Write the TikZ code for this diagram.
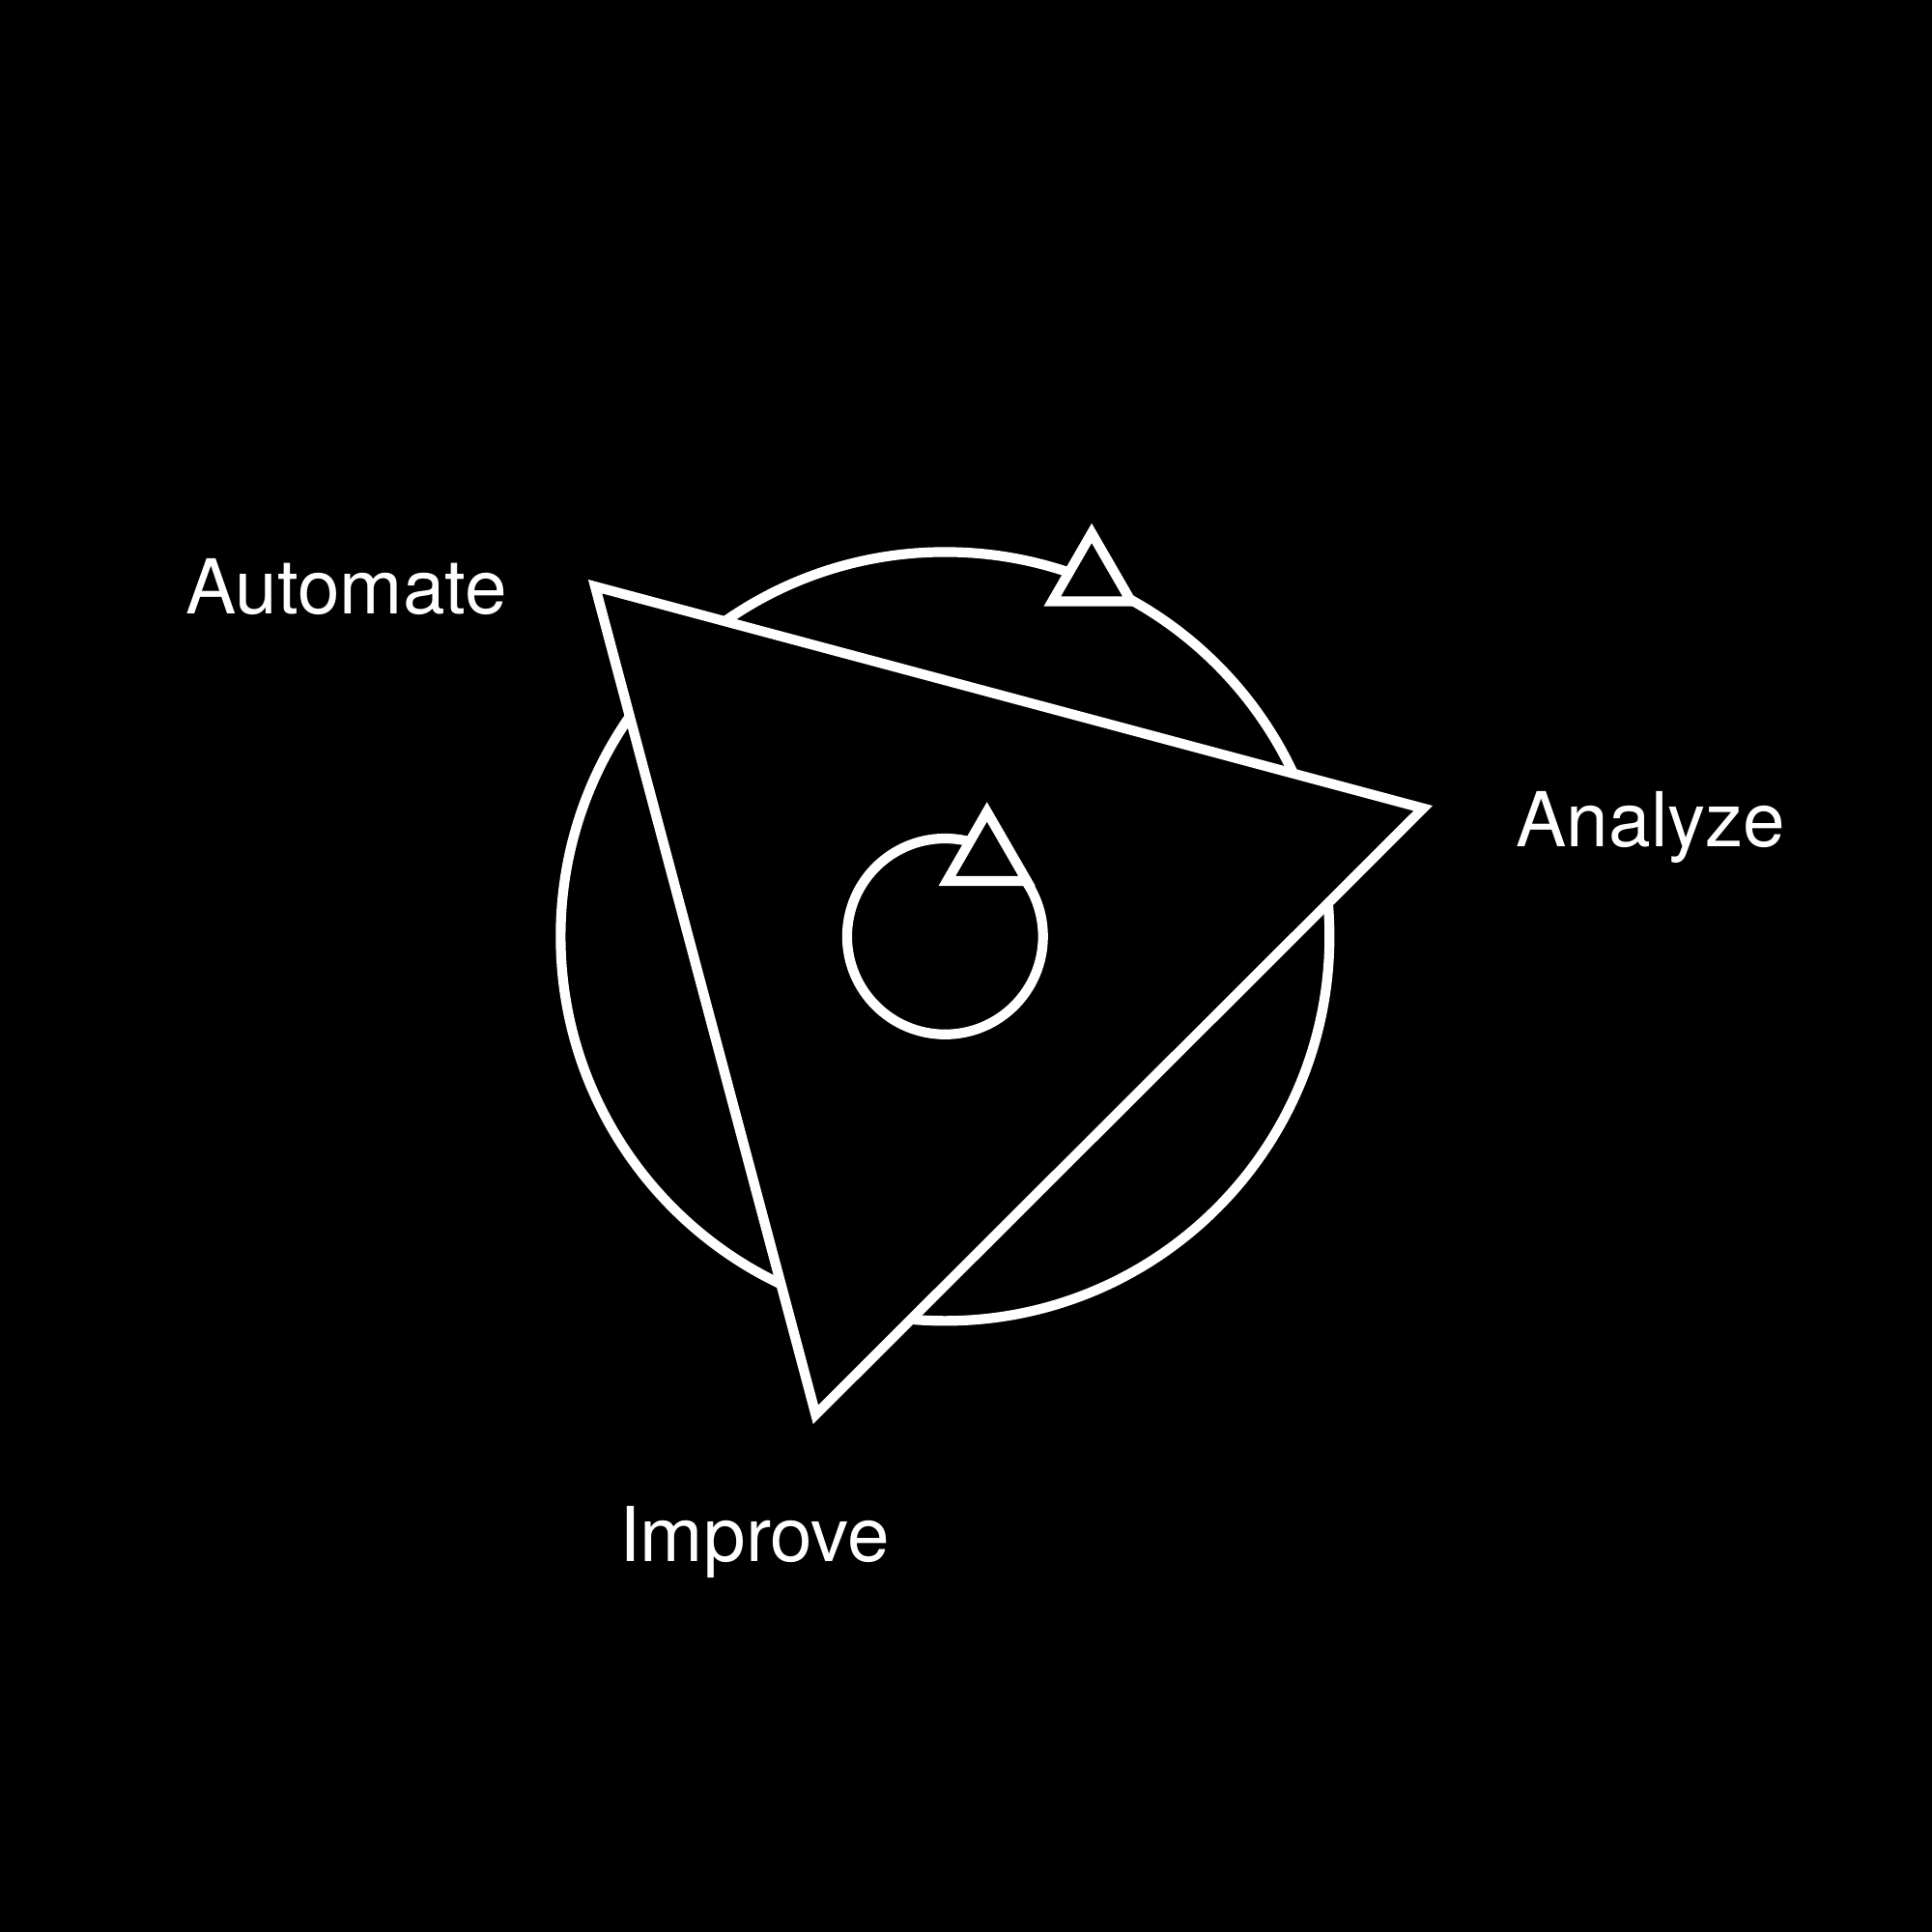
\documentclass[tikz,border=0pt]{standalone}
\usepackage{fontspec}
\setmainfont{TeX Gyre Heros}
\begin{document}
\begin{tikzpicture}[x=0.012755cm,y=-0.012755cm,
  ring/.style={draw=white, line width=0.102cm},
  tri/.style={draw=white, fill=black, line width=0.102cm, line join=miter},
  lbl/.style={text=white, font=\fontsize{22.3pt}{26pt}\selectfont, inner sep=0pt, anchor=base west}]
\fill[black] (0,0) rectangle (1568,1568);
\useasboundingbox (0,0) rectangle (1568,1568);
% big ring
\draw[ring] (767,760) circle[radius=312];
% arrowhead on ring
\draw[tri] (886,432.7) -- (918,488.1) -- (854,488.1) -- cycle;
% big triangle
\coordinate (vA) at (483,476);
\coordinate (vB) at (1155,656);
\coordinate (vC) at (662,1148);
\draw[tri] (vA) -- (vB) -- (vC) -- cycle;
% inner ring
\draw[ring] (767,760) circle[radius=79.5];
% inner arrowhead
\draw[tri] (801,658.9) -- (833.4,715) -- (768.6,715) -- cycle;
% labels
\node[lbl] (automate) at (150,498) {Automate};
\node[lbl] (analyze) at (1230,687) {Analyze};
\node[lbl] (improve) at (502,1267) {Improve};
\end{tikzpicture}
\end{document}
